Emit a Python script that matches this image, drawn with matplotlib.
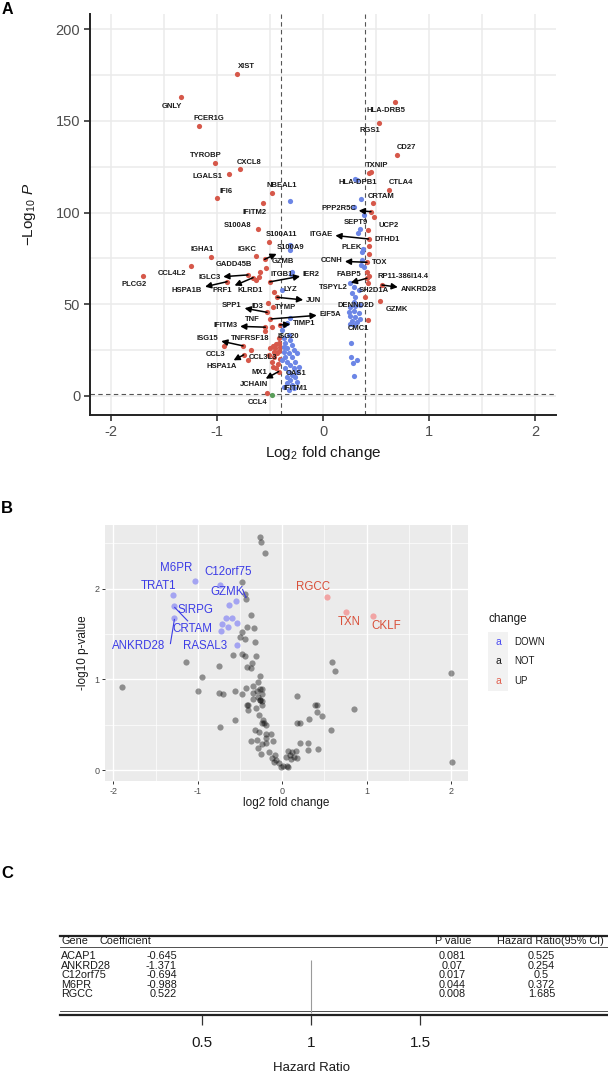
import matplotlib
matplotlib.use('Agg')
import matplotlib.pyplot as plt
from matplotlib.patches import Rectangle
import matplotlib.transforms as mtransforms

plt.rcParams['font.family'] = ['Liberation Sans', 'DejaVu Sans']
plt.rcParams['axes.unicode_minus'] = False
plt.rcParams['mathtext.fontset'] = 'custom'
plt.rcParams['mathtext.rm'] = 'Liberation Sans'
plt.rcParams['mathtext.it'] = 'Liberation Sans:italic'

W, H = 608, 1074

# ---------------- panel A data (log2FC, -log10 P) ----------------
red_fc = [-0.815, -1.337, -1.167, -1.023, -0.787, -0.89, -0.997, -0.485, -0.563, -0.613,
          -0.507, -1.054, -0.629, -0.551, -0.535, -1.242, -0.592, -0.607, -0.629, -0.708,
          -0.906, -0.66, -0.503, -0.46, -0.434, -0.523, -0.528, -0.497, -0.544, -0.544,
          -0.481, -0.409, -1.695, -0.931, -0.755, -0.676, -0.472, -0.441, -0.419, -0.45,
          -0.497, -0.403, -0.466, -0.434, -0.419, -0.749, -0.711, -0.472, -0.441, -0.425,
          -0.481, -0.409, -0.459, -0.513, -0.419, -0.528, -0.47, -0.42,
          0.682, 0.528, 0.701, 0.43, 0.452, 0.619, 0.468, 0.453, 0.484, 0.424,
          0.43, 0.43, 0.43, 0.415, 0.415, 0.437, 0.415, 0.424, 0.556, 0.40, 0.54, 0.424]
red_p = [175.6, 162.9, 147.4, 126.9, 123.6, 120.9, 107.8, 110.5, 105.1, 91.1,
         84.0, 75.6, 76.3, 74.5, 70.0, 71.0, 67.8, 65.1, 63.3, 66.0,
         62.3, 64.5, 62.2, 56.9, 53.8, 50.9, 45.6, 41.8, 37.5, 35.4,
         37.8, 38.7, 65.4, 27.3, 27.3, 25.1, 27.4, 28.4, 29.1, 26.0,
         26.0, 26.9, 24.2, 23.3, 24.7, 22.4, 19.6, 16.0, 15.1, 17.4,
         18.7, 20.0, 21.4, 22.4, 13.3, 1.5, 48.5, 31.5,
         160.3, 149.0, 131.4, 121.4, 122.0, 112.3, 105.4, 100.5, 97.4, 90.5,
         85.6, 82.0, 77.3, 72.9, 67.8, 65.4, 64.2, 61.4, 60.5, 53.8, 52.0, 41.4]

blue_fc = [-0.308, -0.371, -0.34, -0.387, -0.324, -0.371, -0.308, -0.356, -0.292, -0.34,
           -0.371, -0.277, -0.324, -0.245, -0.356, -0.292, -0.34, -0.261, -0.308, -0.356,
           -0.277, -0.324, -0.245, -0.292, -0.34, -0.261, -0.308, -0.245, -0.34, -0.292,
           -0.277, -0.371, -0.324, -0.23, -0.387, -0.371, -0.308, -0.308, -0.29, -0.3,
           -0.387, -0.31,
           0.305, 0.32, 0.355, 0.295, 0.383, 0.345, 0.326, 0.368, 0.377, 0.368,
           0.383, 0.358, 0.258, 0.289, 0.336, 0.274, 0.305, 0.289, 0.258, 0.305,
           0.352, 0.242, 0.289, 0.336, 0.258, 0.305, 0.352, 0.274, 0.321, 0.251,
           0.295, 0.267, 0.264, 0.28, 0.32, 0.289]
blue_p = [106.2, 38.7, 39.6, 36.0, 33.3, 31.5, 30.5, 28.7, 27.8, 26.0,
          24.2, 25.1, 23.3, 23.3, 21.4, 21.1, 18.7, 18.7, 16.9, 15.1,
          15.1, 13.3, 13.3, 11.5, 10.5, 10.5, 8.7, 7.8, 6.9, 6.0,
          4.2, 5.1, 3.3, 16.0, 19.6, 26.9, 82.3, 79.6, 67.8, 66.5,
          57.8, 42.5,
          118.3, 117.5, 107.6, 103.2, 98.7, 90.9, 88.7, 78.7, 80.0, 74.2,
          70.5, 71.4, 61.4, 59.3, 57.8, 56.0, 54.1, 51.4, 48.7, 49.1,
          49.6, 46.0, 46.5, 45.4, 43.6, 42.9, 42.0, 41.1, 40.5, 39.3,
          38.7, 29.1, 21.4, 18.2, 19.4, 11.1]

green_fc = [-0.48]
green_p = [0.4]

# labelled genes: point they refer to, and whether a connector arrow is drawn
lab_names = ['XIST', 'GNLY', 'FCER1G', 'TYROBP', 'CXCL8', 'LGALS1', 'IFI6', 'NBEAL1', 'IFITM2',
             'S100A8', 'S100A11', 'S100A9', 'IGHA1', 'IGKC', 'GADD45B', 'GZMB', 'CCL4L2', 'IGLC3',
             'ITGB1', 'IER2', 'HSPA1B', 'PRF1', 'KLRD1', 'LYZ', 'JUN', 'SPP1', 'ID3', 'TYMP',
             'TNF', 'EIF5A', 'IFITM3', 'TIMP1', 'ISG15', 'TNFRSF18', 'ISG20', 'CCL3', 'CCL3L3',
             'HSPA1A', 'MX1', 'OAS1', 'JCHAIN', 'IFITM1', 'CCL4', 'PLCG2',
             'HLA-DRB5', 'RGS1', 'CD27', 'TXNIP', 'HLA-DPB1', 'CTLA4', 'CRTAM', 'PPP2R5C',
             'SEPT9', 'UCP2', 'ITGAE', 'DTHD1', 'PLEK', 'CCNH', 'TOX', 'FABP5', 'RP11-386I14.4',
             'TSPYL2', 'SH2D1A', 'ANKRD28', 'DENND2D', 'GZMK', 'CMC1']
lab_fc = [-0.815, -1.337, -1.167, -1.023, -0.787, -0.89, -0.997, -0.485, -0.563,
          -0.613, -0.507, -0.551, -1.054, -0.629, -0.592, -0.535, -1.242, -0.708,
          -0.46, -0.503, -0.906, -0.66, -0.66, -0.387, -0.434, -0.528, -0.523, -0.47,
          -0.497, -0.49, -0.544, -0.409, -0.755, -0.755, -0.42, -0.676, -0.711,
          -0.749, -0.472, -0.3, -0.419, -0.3, -0.528, -1.695,
          0.682, 0.528, 0.701, 0.43, 0.305, 0.619, 0.468, 0.453,
          0.345, 0.484, 0.43, 0.424, 0.368, 0.415, 0.415, 0.415, 0.437,
          0.415, 0.40, 0.556, 0.3, 0.54, 0.424]
lab_p = [175.6, 162.9, 147.4, 126.9, 123.6, 120.9, 107.8, 110.5, 105.1,
         91.1, 84.0, 74.5, 75.6, 76.3, 67.8, 70.0, 71.0, 66.0,
         62.0, 62.2, 62.3, 64.5, 64.5, 57.8, 53.8, 45.6, 50.9, 48.5,
         41.8, 42.0, 37.5, 38.7, 27.3, 27.3, 31.5, 25.1, 19.6,
         22.4, 16.0, 10.0, 13.3, 5.0, 1.5, 65.4,
         160.3, 149.0, 131.4, 121.4, 118.3, 112.3, 105.4, 100.5,
         90.9, 97.4, 85.6, 90.5, 78.7, 72.9, 72.9, 67.8, 65.4,
         64.2, 53.8, 60.5, 48.0, 52.0, 41.4]
lab_arrow = ['S100A9', 'IGLC3', 'IER2', 'HSPA1B', 'PRF1', 'JUN', 'SPP1', 'EIF5A', 'IFITM3',
             'TIMP1', 'ISG15', 'HSPA1A', 'JCHAIN', 'PPP2R5C', 'ITGAE', 'CCNH', 'TSPYL2', 'ANKRD28']

# label text centres (layout, data units)
lab_tx = [-0.726, -1.425, -1.079, -1.104, -0.702, -1.094, -0.912, -0.393, -0.648,
          -0.805, -0.396, -0.308, -1.142, -0.717, -0.837, -0.381, -1.425, -1.073,
          -0.393, -0.11, -1.283, -0.953, -0.686, -0.308, -0.089, -0.859, -0.617, -0.349,
          -0.671, 0.069, -0.922, -0.176, -1.089, -0.692, -0.325, -1.016, -0.57,
          -0.953, -0.601, -0.255, -0.648, -0.261, -0.617, -1.787,
          0.594, 0.44, 0.786, 0.515, 0.33, 0.736, 0.547, 0.147,
          0.311, 0.616, -0.019, 0.604, 0.274, 0.078, 0.534, 0.242, 0.751,
          0.1, 0.484, 0.902, 0.314, 0.698, 0.336]
lab_ty = [179.6, 158.1, 151.4, 131.0, 127.4, 119.6, 111.6, 114.5, 100.3,
          92.7, 87.8, 80.9, 79.6, 80.0, 71.8, 73.2, 66.5, 64.5,
          66.4, 66.4, 57.3, 57.3, 57.3, 58.3, 51.8, 49.1, 48.7, 48.2,
          41.8, 44.5, 38.2, 39.6, 31.5, 31.1, 32.3, 22.7, 21.1,
          16.0, 12.7, 12.0, 6.0, 4.2, -3.7, 60.9,
          155.9, 144.7, 135.4, 125.8, 116.3, 116.3, 108.5, 102.0,
          94.7, 92.9, 88.3, 85.4, 80.9, 73.6, 72.7, 66.4, 65.4,
          59.1, 57.3, 57.8, 49.2, 47.4, 36.9]

# ---------------- panel B data (log2FC, -log10 p) ----------------
down_fc = [-1.034, -0.736, -1.293, -0.548, -1.286, -0.631, -1.278, -0.67, -0.6, -0.533,
           -0.716, -0.639, -0.725, -0.54]
down_p = [2.086, 2.04, 1.925, 1.862, 1.803, 1.814, 1.674, 1.674, 1.68, 1.62,
          1.608, 1.578, 1.534, 1.383]
up_fc = [0.53, 0.76, 1.07]
up_p = [1.91, 1.74, 1.70]
not_fc = [-0.262, -0.25, -0.207, -0.474, -0.442, -0.43, -0.375, -0.42, -0.336, -0.478,
          -0.501, -0.442, -0.321, -0.58, -0.474, -0.442, -0.313, -1.14, -0.745, -0.415,
          -0.364, -0.375, -0.258, -0.952, -1.90, -0.43, -0.352, -0.286, -0.266, 0.585,
          0.628, 2.0, -1.0, -0.745, -0.705, -0.562, -0.474, -0.345, -0.246, -0.304,
          -0.235, 0.176, 0.393, -0.423, -0.345, -0.266, -0.246, -0.286, -0.258, -0.244,
          -0.734, -0.565, -0.408, -0.313, -0.272, -0.23, -0.244, -0.221, -0.189, -0.321,
          -0.28, -0.198, -0.134, -0.189, -0.372, -0.304, -0.235, -0.198, -0.111, -0.29,
          -0.157, -0.248, -0.084, -0.12, -0.074, -0.038, -0.02, 0.008, 0.054, 0.072,
          -0.098, 0.063, 0.086, 0.118, 0.141, 0.164, 0.178, 0.108, 0.04, 0.214,
          0.301, 0.306, 0.429, 0.178, 0.209, 0.315, 0.406, 0.411, 0.471, 0.575,
          0.855, 2.01, -0.408]
not_p = [2.572, 2.514, 2.389, 2.075, 1.939, 1.884, 1.707, 1.578, 1.56, 1.519,
         1.467, 1.442, 1.412, 1.273, 1.276, 1.254, 1.262, 1.191, 1.144, 1.136,
         1.18, 1.125, 1.037, 1.025, 0.915, 0.908, 0.923, 0.970, 0.897, 1.191,
         1.088, 1.07, 0.867, 0.849, 0.834, 0.867, 0.842, 0.853, 0.842, 0.871,
         0.889, 0.812, 0.720, 0.713, 0.779, 0.768, 0.713, 0.804, 0.776, 0.760,
         0.473, 0.547, 0.657, 0.680, 0.602, 0.547, 0.517, 0.521, 0.492, 0.444,
         0.425, 0.400, 0.403, 0.352, 0.318, 0.334, 0.29, 0.3, 0.318, 0.241,
         0.204, 0.179, 0.168, 0.135, 0.113, 0.075, 0.031, 0.046, 0.046, 0.039,
         0.086, 0.215, 0.171, 0.197, 0.141, 0.215, 0.135, 0.124, 0.141, 0.3,
         0.3, 0.226, 0.23, 0.517, 0.517, 0.561, 0.716, 0.635, 0.599, 0.44,
         0.676, 0.09, 0.716]
b_labels = ['M6PR', 'C12orf75', 'TRAT1', 'GZMK', 'SIRPG', 'CRTAM', 'ANKRD28', 'RASAL3',
            'RGCC', 'TXN', 'CKLF']
b_lab_x = [-1.253, -0.639, -1.47, -0.658, -1.03, -1.07, -1.698, -0.913, 0.361, 0.793, 1.236]
b_lab_y = [2.223, 2.179, 2.031, 1.965, 1.762, 1.552, 1.365, 1.365, 2.013, 1.633, 1.589]
b_change = ['DOWN', 'NOT', 'UP']

# ---------------- panel C data ----------------
c_genes = ['ACAP1', 'ANKRD28', 'C12orf75', 'M6PR', 'RGCC']
c_coef = ['-0.645', '-1.371', '-0.694', '-0.988', '0.522']
c_pval = ['0.081', '0.07', '0.017', '0.044', '0.008']
c_hr = ['0.525', '0.254', '0.5', '0.372', '1.685']
hr_ticks = [0.5, 1, 1.5]


def box(l, t, r, b):
    return [l / W, 1 - b / H, (r - l) / W, (b - t) / H]


def fx(px):
    return px / W


def fy(py):
    return 1 - py / H


fig = plt.figure(figsize=(W / 100, H / 100), dpi=100)

# ======================= A =======================
axA = fig.add_axes(box(90, 14, 556, 415))
axA.set_xlim(-2.2, 2.2)
axA.set_ylim(-10.4, 208.3)
axA.set_xticks([-2, -1, 0, 1, 2])
axA.set_yticks([0, 50, 100, 150, 200])
axA.set_xticks([-1.5, -0.5, 0.5, 1.5], minor=True)
axA.set_yticks([25, 75, 125, 175], minor=True)
axA.grid(True, which='both', color='#ebebeb', lw=1.1)
axA.set_axisbelow(True)
for s in ['top', 'right']:
    axA.spines[s].set_visible(False)
for s in ['left', 'bottom']:
    axA.spines[s].set_linewidth(1.4)
    axA.spines[s].set_color('#222222')
axA.tick_params(which='major', length=4.5, width=1.2, color='#333333', labelsize=10.5,
                labelcolor='#4d4d4d', pad=2.5)
axA.tick_params(which='minor', length=0)

dash = dict(color='#555555', lw=0.8, ls=(0, (4, 3)), zorder=1)
axA.axvline(-0.4, **dash)
axA.axvline(0.4, **dash)
axA.axhline(1.3, **dash)

axA.scatter(red_fc, red_p, s=14, color='#d6584a', lw=0, zorder=3)
axA.scatter(blue_fc, blue_p, s=14, color='#6c86e6', lw=0, zorder=3)
axA.scatter(green_fc, green_p, s=14, color='#5a9e5a', lw=0, zorder=3)

arrow_kw = dict(arrowstyle='<|-,head_length=0.35,head_width=0.18', color='black',
                lw=1.1, mutation_scale=10, shrinkA=0, shrinkB=0)
for name, px, py, tx, ty in zip(lab_names, lab_fc, lab_p, lab_tx, lab_ty):
    if name in lab_arrow:
        axA.annotate(name, xy=(px, py), xytext=(tx, ty), fontsize=5.5, fontweight='bold',
                     color='#1a1a1a', ha='center', va='center', arrowprops=arrow_kw, zorder=5)
    else:
        axA.text(tx, ty, name, fontsize=5.5, fontweight='bold', color='#1a1a1a',
                 ha='center', va='center', zorder=5)

fig.text(fx(323), fy(453), r'Log$_2$ fold change', fontsize=11, color='#1a1a1a',
         ha='center', va='center')
fig.text(fx(29), fy(214), r'$-$Log$_{10}$ $\mathit{P}$', fontsize=11, color='#1a1a1a',
         ha='center', va='center', rotation=90)

# ======================= B =======================
axB = fig.add_axes(box(105, 525, 468, 781))
axB.set_facecolor('#ebebeb')
axB.set_xlim(-2.1, 2.2)
axB.set_ylim(-0.12, 2.70)
axB.set_xticks([-2, -1, 0, 1, 2])
axB.set_yticks([0, 1, 2])
axB.set_xticks([-1.5, -0.5, 0.5, 1.5], minor=True)
axB.set_yticks([0.5, 1.5, 2.5], minor=True)
axB.grid(True, which='major', color='white', lw=1.0)
axB.grid(True, which='minor', color='white', lw=0.5)
axB.set_axisbelow(True)
for s in axB.spines.values():
    s.set_visible(False)
axB.tick_params(which='major', length=2.5, width=0.7, color='#333333', labelsize=6.5,
                labelcolor='#4d4d4d', pad=1.5)
axB.tick_params(which='minor', length=0)

axB.scatter(not_fc, not_p, s=20, color='black', alpha=0.4, lw=0, zorder=3)
axB.scatter(down_fc, down_p, s=20, color='blue', alpha=0.3, lw=0, zorder=3)
axB.scatter(up_fc, up_p, s=20, color='red', alpha=0.3, lw=0, zorder=3)

for name, tx, ty in zip(b_labels, b_lab_x, b_lab_y):
    col = '#d9503a' if name in ['RGCC', 'TXN', 'CKLF'] else '#3c3ce6'
    axB.text(tx, ty, name, fontsize=8.3, color=col, ha='center', va='center', zorder=5)
# ggrepel segments
axB.plot([-1.274, -1.121], [1.792, 1.644], color='#3c3ce6', lw=0.8, zorder=4)
axB.plot([-1.278, -1.325], [1.66, 1.394], color='#3c3ce6', lw=0.8, zorder=4)
axB.plot([-0.47, -0.43], [1.99, 1.90], color='#3c3ce6', lw=0.8, zorder=4)

fig.text(fx(286), fy(803), 'log2 fold change', fontsize=8.5, color='#1a1a1a',
         ha='center', va='center')
fig.text(fx(83), fy(653), '-log10 p-value', fontsize=8.5, color='#1a1a1a',
         ha='center', va='center', rotation=90)

# legend
fig.text(fx(488), fy(619), 'change', fontsize=8.5, color='#1a1a1a', ha='left', va='center')
leg_cols = ['#4b4bf0', '#1a1a1a', '#e0604f']
for i, (lab, col) in enumerate(zip(b_change, leg_cols)):
    yc = 641.7 + i * 19.8
    fig.add_artist(Rectangle((fx(488), fy(yc + 9.9)), 20 / W, 19.8 / H,
                             transform=fig.transFigure, color='#f2f2f2', lw=0))
    fig.text(fx(498), fy(yc), 'a', fontsize=7.5, color=col, ha='center', va='center')
    fig.text(fx(514), fy(yc), lab, fontsize=7, color='#1a1a1a', ha='left', va='center')

# ======================= C =======================
axC = fig.add_axes(box(0, 880, 608, 1074))
axC.set_xlim(-0.4287, 2.3616)
axC.set_ylim(1074, 880)
axC.axis('off')
tr = mtransforms.blended_transform_factory(fig.transFigure, axC.transData)

axC.plot([fx(60), fx(608)], [936, 936], color='#222222', lw=1.6, transform=tr)
axC.plot([fx(60), fx(608)], [946.8, 946.8], color='#333333', lw=0.6, transform=tr)
axC.plot([fx(60), fx(608)], [1011.3, 1011.3], color='#333333', lw=0.6, transform=tr)
axC.plot([fx(60), fx(608)], [1014.5, 1014.5], color='#222222', lw=1.6, transform=tr)

tfs = 7.8
tcol = '#1a1a1a'
axC.text(fx(61), 941.5, 'Gene', fontsize=tfs, color=tcol, ha='left', va='center', transform=tr)
axC.text(fx(99), 941.5, 'Coefficient', fontsize=tfs, color=tcol, ha='left', va='center', transform=tr)
axC.text(fx(453.5), 941.5, 'P value', fontsize=tfs, color=tcol, ha='center', va='center', transform=tr)
axC.text(fx(550.5), 941.5, 'Hazard Ratio(95% CI)', fontsize=tfs, color=tcol, ha='center',
         va='center', transform=tr)
for i, (g, c, p, h) in enumerate(zip(c_genes, c_coef, c_pval, c_hr)):
    yy = 956 + i * 9.6
    axC.text(fx(61), yy, g, fontsize=tfs, color=tcol, ha='left', va='center', transform=tr)
    axC.text(fx(177), yy, c, fontsize=tfs, color=tcol, ha='right', va='center', transform=tr)
    axC.text(fx(452), yy, p, fontsize=tfs, color=tcol, ha='center', va='center', transform=tr)
    axC.text(fx(541.5), yy, h, fontsize=tfs, color=tcol, ha='center', va='center', transform=tr)

axC.vlines(1.0, 960, 1013, color='#9a9a9a', lw=0.8)
axC.vlines(hr_ticks, 1015, 1025, color='#333333', lw=0.9)
for t in hr_ticks:
    axC.text(t, 1043, '%g' % t, fontsize=11, color='#1a1a1a', ha='center', va='center')
axC.text(1.0, 1068, 'Hazard Ratio', fontsize=9.5, color='#1a1a1a', ha='center', va='center')

# panel letters
fig.text(fx(7), fy(10), 'A', fontsize=11.5, fontweight='bold', ha='center', va='center')
fig.text(fx(7), fy(508), 'B', fontsize=12, fontweight='bold', ha='center', va='center')
fig.text(fx(7), fy(873), 'C', fontsize=12, fontweight='bold', ha='center', va='center')

fig.savefig('out.png', dpi=100)
